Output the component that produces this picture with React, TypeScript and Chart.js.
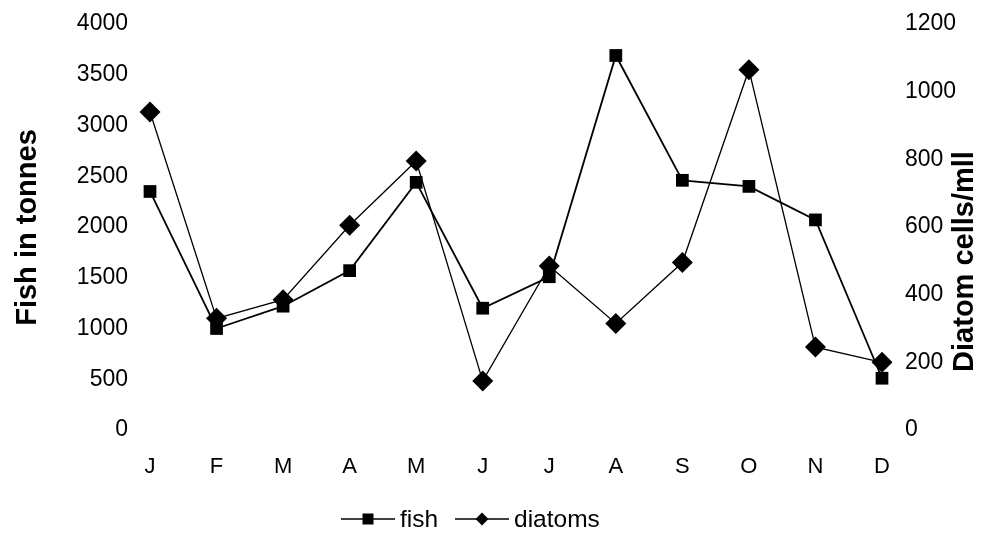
import React, { useEffect, useRef } from "react";
import { Chart, registerables } from "chart.js";

Chart.register(...registerables);

const months = ["J", "F", "M", "A", "M", "J", "J", "A", "S", "O", "N", "D"];
const fish = [2350, 1000, 1220, 1570, 2440, 1200, 1510, 3690, 2460, 2400, 2070, 510];
const diatoms = [940, 330, 385, 605, 795, 145, 485, 315, 495, 1065, 245, 200];
const fishAxisTitle = "Fish in tonnes";
const diatomAxisTitle = "Diatom cells/mll";
const seriesNames = ["fish", "diatoms"];

const FONT = "'Liberation Sans', Arial, sans-serif";

// Axis titles (both read bottom-to-top) and an Excel-style legend.
const decorations = {
  id: "decorations",
  afterDraw(chart: any) {
    const ctx = chart.ctx;
    ctx.save();
    ctx.fillStyle = "#000";
    ctx.font = `bold 29px ${FONT}`;
    ctx.textAlign = "center";
    ctx.textBaseline = "alphabetic";

    ctx.save();
    ctx.translate(36, 227.5);
    ctx.rotate(-Math.PI / 2);
    ctx.fillText(fishAxisTitle, 0, 0);
    ctx.restore();

    ctx.save();
    ctx.translate(973, 261.5);
    ctx.rotate(-Math.PI / 2);
    ctx.fillText(diatomAxisTitle, 0, 0);
    ctx.restore();

    // legend
    const ly = 519;
    ctx.font = `24.5px ${FONT}`;
    ctx.textAlign = "left";
    ctx.textBaseline = "middle";
    ctx.strokeStyle = "#000";
    ctx.lineWidth = 1.6;
    const entries = [
      { x: 341, label: seriesNames[0], shape: "square" },
      { x: 455, label: seriesNames[1], shape: "diamond" },
    ];
    for (const e of entries) {
      ctx.beginPath();
      ctx.moveTo(e.x, ly);
      ctx.lineTo(e.x + 54, ly);
      ctx.stroke();
      const cx = e.x + 27;
      ctx.beginPath();
      if (e.shape === "square") {
        ctx.rect(cx - 5.5, ly - 5.5, 11, 11);
      } else {
        ctx.moveTo(cx, ly - 6.5);
        ctx.lineTo(cx + 6.5, ly);
        ctx.lineTo(cx, ly + 6.5);
        ctx.lineTo(cx - 6.5, ly);
        ctx.closePath();
      }
      ctx.fill();
      ctx.fillText(e.label, e.x + 59, ly + 1);
    }
    ctx.restore();
  },
};

const plainNumber = (v: any) => String(v);

// Fixed side-axis widths; the end labels may hang outside the plot area.
const fitSide = (width: number) => (scale: any) => {
  scale.width = width;
  scale.paddingTop = 0;
  scale.paddingBottom = 0;
};

export default function App() {
  const canvasRef = useRef<HTMLCanvasElement | null>(null);

  useEffect(() => {
    const canvas = canvasRef.current;
    if (!canvas) return;
    const chart = new Chart(canvas, {
      type: "line",
      data: {
        labels: months,
        datasets: [
          {
            label: seriesNames[0],
            data: fish,
            yAxisID: "y",
            borderColor: "#000",
            backgroundColor: "#000",
            borderWidth: 1.8,
            pointStyle: "rect",
            pointRadius: 9,
            pointBorderWidth: 0,
            tension: 0,
          },
          {
            label: seriesNames[1],
            data: diatoms,
            yAxisID: "y1",
            borderColor: "#000",
            backgroundColor: "#000",
            borderWidth: 1.3,
            pointStyle: "rectRot",
            pointRadius: 10.5,
            pointBorderWidth: 0,
            tension: 0,
          },
        ],
      },
      options: {
        animation: false,
        responsive: false,
        layout: { padding: { top: 24, bottom: 0, left: 0, right: 0 } },
        plugins: {
          legend: { display: false },
          tooltip: { enabled: false },
        },
        scales: {
          x: {
            offset: false,
            grid: { display: false, drawTicks: false },
            border: { display: false },
            ticks: { color: "#000", font: { family: FONT, size: 22 }, padding: 24, maxRotation: 0 },
            afterFit(scale: any) {
              scale.height = 103;
              scale.paddingLeft = 0;
              scale.paddingRight = 0;
            },
          },
          y: {
            position: "left",
            min: 0,
            max: 4000,
            grid: { display: false, drawTicks: false },
            border: { display: false },
            ticks: { stepSize: 500, color: "#000", font: { family: FONT, size: 23 }, padding: 22, callback: plainNumber },
            afterFit: fitSide(150),
          },
          y1: {
            position: "right",
            min: 0,
            max: 1200,
            grid: { display: false, drawTicks: false },
            border: { display: false },
            ticks: { stepSize: 200, color: "#000", font: { family: FONT, size: 23 }, padding: 23, callback: plainNumber },
            afterFit: fitSide(99),
          },
        },
      },
      plugins: [decorations],
    });
    return () => chart.destroy();
  }, []);

  return (
    <div style={{ position: "fixed", left: 0, top: 0, width: 981, height: 533, background: "#fff" }}>
      <canvas ref={canvasRef} width={981} height={533} style={{ display: "block" }} />
    </div>
  );
}
